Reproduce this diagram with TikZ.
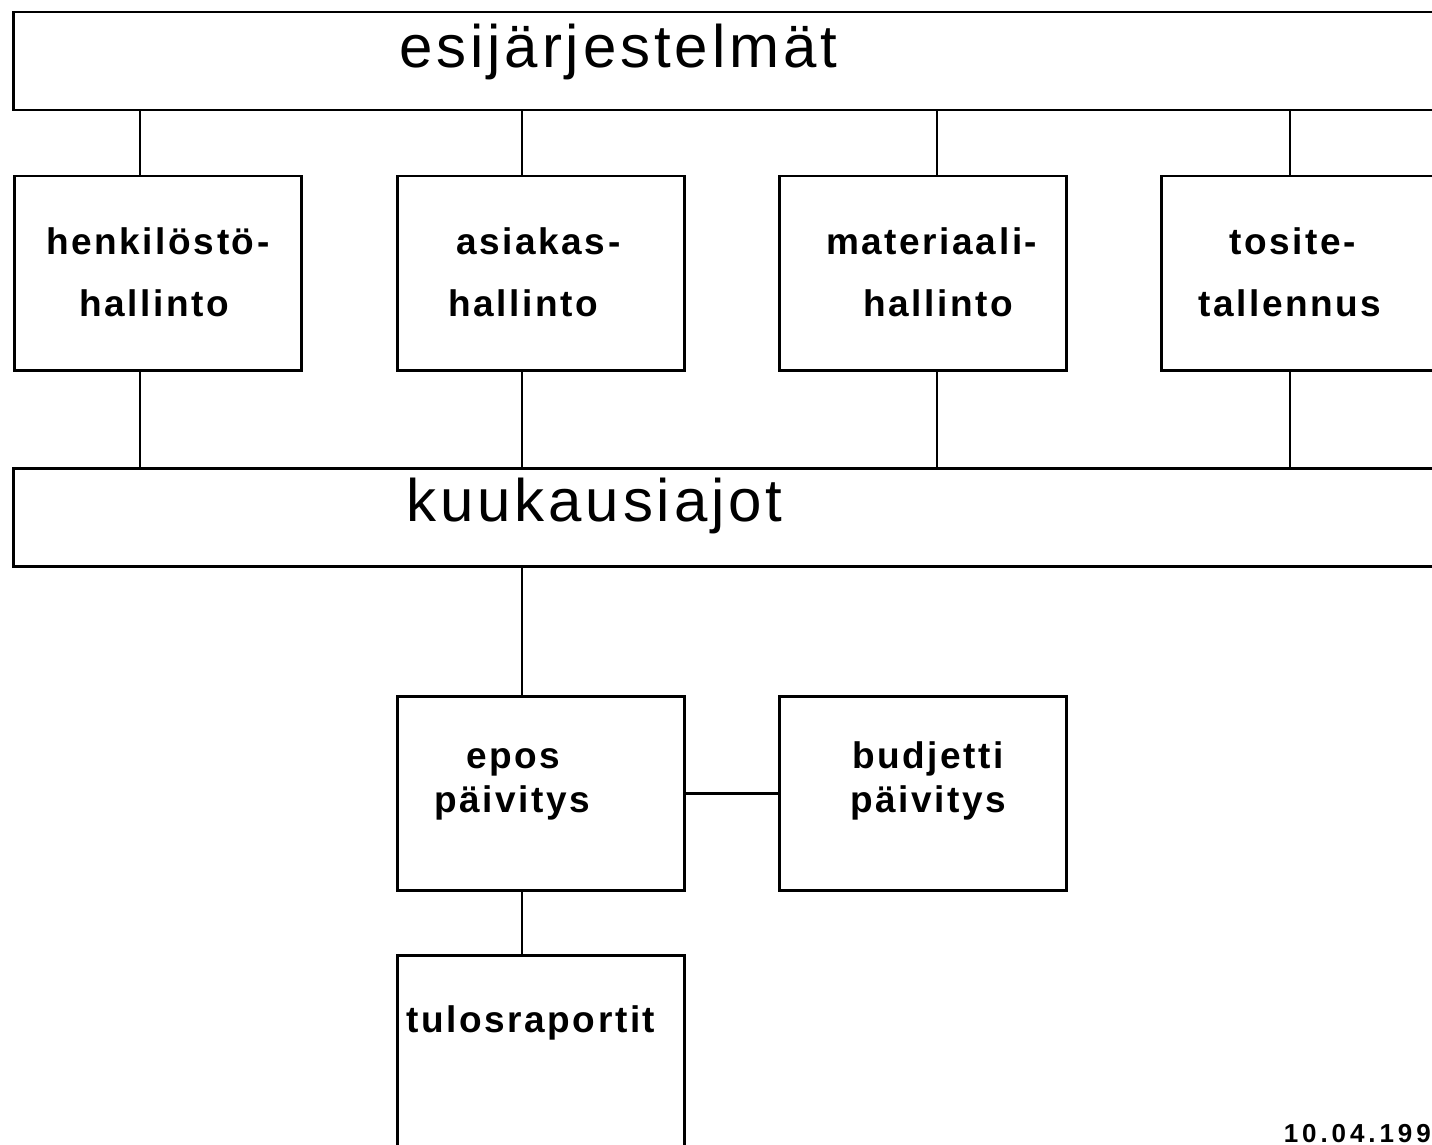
\documentclass[tikz,border=0pt]{standalone}
\usepackage{fontspec}
\setmainfont{Liberation Sans}
\newfontfamily\titlefont[LetterSpace=6.5]{Liberation Sans}
\newfontfamily\labelfont[LetterSpace=7]{Liberation Sans}
\newfontfamily\datefont[LetterSpace=15]{Liberation Sans}
\begin{document}
\begin{tikzpicture}[x=0.5pt,y=-0.5pt,line width=1.25pt,
    box/.style={draw,rectangle,anchor=north west,inner sep=0pt,
      minimum width=143.5pt,minimum height=97pt},
    bar/.style={draw,rectangle,anchor=north west,inner sep=0pt,
      minimum width=730pt,minimum height=49pt},
    title/.style={anchor=base west,inner sep=0pt,
      font=\titlefont\fontsize{30}{34}\selectfont},
    lbl/.style={anchor=base west,inner sep=0pt,
      font=\labelfont\bfseries\fontsize{18.5}{21}\selectfont}]
    \useasboundingbox (0,0) rectangle (1432,1145);
    \clip (0,0) rectangle (1432,1145);
    % balkit
    \node[bar] (esi) at (12,11) {};
    \node[bar] (kuu) at (12,467) {};
    \node[title] (esiteksti) at (398,68) {esijärjestelmät};
    \node[title] (kuuteksti) at (405,521) {kuukausiajot};
    % esijärjestelmien laatikot
    \node[box] (hen) at (13,175) {};
    \node[box] (asi) at (396,175) {};
    \node[box] (mat) at (778,175) {};
    \node[box] (tos) at (1160,175) {};
    \node[lbl] (hen1) at (45,255) {henkilöstö-};
    \node[lbl] (hen2) at (78,316) {hallinto};
    \node[lbl] (asi1) at (455,255) {asiakas-};
    \node[lbl] (asi2) at (447,316) {hallinto};
    \node[lbl] (mat1) at (825,255) {materiaali-};
    \node[lbl] (mat2) at (862,316) {hallinto};
    \node[lbl] (tos1) at (1228,255) {tosite-};
    \node[lbl] (tos2) at (1197,316) {tallennus};
    % ajot
    \node[box] (epo) at (396,695) {};
    \node[box] (bud) at (778,695) {};
    \node[box] (tul) at (396,954) {};
    \node[lbl] (epo1) at (465,768) {epos};
    \node[lbl] (epo2) at (433,812) {päivitys};
    \node[lbl] (bud1) at (851,768) {budjetti};
    \node[lbl] (bud2) at (849,812) {päivitys};
    \node[lbl] (tul1) at (405,1032) {tulosraportit};
    \node[anchor=base east,inner sep=0pt,
      font=\datefont\bfseries\fontsize{13}{15}\selectfont] (pvm) at (1432,1142) {10.04.199};
    % yhteydet
    \coordinate (x1) at (140,0);
    \coordinate (x2) at (522,0);
    \coordinate (x3) at (937,0);
    \coordinate (x4) at (1290,0);
    \draw (esi.south -| x1) -- (hen.north -| x1);
    \draw (esi.south -| x2) -- (asi.north -| x2);
    \draw (esi.south -| x3) -- (mat.north -| x3);
    \draw (esi.south -| x4) -- (tos.north -| x4);
    \draw (hen.south -| x1) -- (kuu.north -| x1);
    \draw (asi.south -| x2) -- (kuu.north -| x2);
    \draw (mat.south -| x3) -- (kuu.north -| x3);
    \draw (tos.south -| x4) -- (kuu.north -| x4);
    \draw (kuu.south -| x2) -- (epo.north -| x2);
    \draw (epo.east) -- (bud.west);
    \draw (epo.south -| x2) -- (tul.north -| x2);
\end{tikzpicture}
\end{document}
